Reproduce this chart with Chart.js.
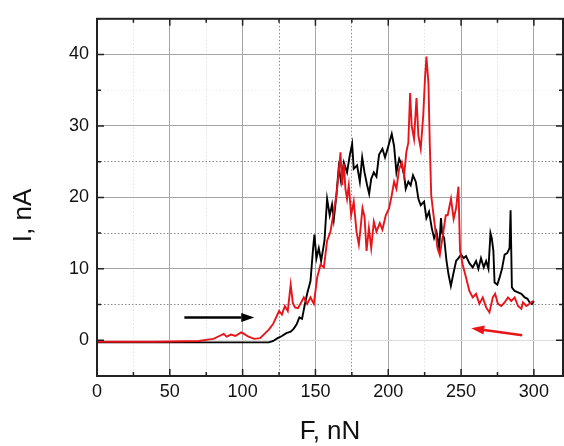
<!DOCTYPE html>
<html>
<head>
<meta charset="utf-8">
<script src="https://cdn.jsdelivr.net/npm/chart.js@4.4.0/dist/chart.umd.min.js"></script>
<style>
  html, body { margin: 0; padding: 0; background: #fff; }
</style>
</head>
<body>
<canvas id="chart" width="564" height="446"></canvas>
<script>
// loading run (black), F in nN / I in nA
const forceBlack = [
    0, 60, 118, 121, 124, 127, 130, 133, 135, 137,
    139, 140.8, 142.5, 144.3, 146.6, 148.4, 149.3, 150.7, 152.3, 153.9,
    156.2, 158, 159.8, 161.4, 162.6, 164.4, 166, 167.6, 169.5, 171.7,
    173.6, 175.2, 176.3, 178.6, 180.5, 182.1, 183.7, 185.5, 186.9, 188.3,
    190.1, 191.9, 193.7, 196, 197.8, 200.1, 202.4, 204, 205.6, 207.5,
    209.3, 210.9, 212, 213.8, 215.4, 217, 218.9, 220.7, 222.3, 224.6,
    226.2, 228, 229.9, 231.5, 233.1, 235, 236.2, 237, 238.4, 240,
    241.4, 243, 244.6, 246.6, 248.2, 250, 251.8, 253.4, 255.7, 258,
    260.3, 261.9, 263.7, 265.6, 267.2, 268.8, 270.2, 271.1, 272.2, 273,
    274.9, 276.5, 278.1, 279.9, 281.7, 283.3, 284, 284.9, 286.8, 289.1,
    291.4, 293.7, 295.6, 297.1, 298.7, 300
];
const currentBlack = [
    -0.3, -0.3, -0.3, -0.1, 0.3, 0.6, 1.0, 1.2, 1.6, 2.2,
    3.2, 3.0, 4.8, 6.5, 8.3, 12.9, 14.8, 11.5, 12.9, 11.1,
    13.9, 19.8, 17.5, 19.0, 16.9, 20.3, 24.2, 22.2, 24.9, 23.5,
    25.9, 27.5, 24.0, 24.5, 22.2, 25.6, 23.5, 21.7, 20.5, 22.6,
    23.5, 22.9, 26.0, 26.8, 25.6, 27.2, 28.9, 27.2, 23.5, 25.4,
    24.5, 23.1, 21.2, 22.2, 21.7, 23.1, 22.2, 19.8, 18.9, 19.4,
    17.1, 18.0, 15.7, 14.3, 15.2, 12.9, 17.1, 15.0, 14.3, 11.1,
    9.2, 7.6, 9.2, 11.1, 11.5, 12.0, 11.5, 11.8, 10.8, 10.2,
    11.1, 10.0, 11.5, 10.2, 11.1, 10.0, 15.0, 14.3, 12.5, 8.1,
    7.8, 8.8, 10.0, 12.0, 12.2, 12.9, 18.2, 7.4, 6.9, 6.7,
    6.5, 6.0, 5.8, 5.3, 5.1, 5.5
];

// unloading run (red)
const forceRed = [
    0, 40, 70, 76, 80, 84, 87, 89, 92, 95,
    99, 101, 104, 108, 112, 115, 118, 121, 123, 125,
    127, 129, 131, 133, 134.5, 136, 138, 139.7, 142, 144.3,
    146.6, 148.9, 151.2, 153.5, 155.8, 158, 160.3, 162.6, 164.4, 166,
    167.2, 168.3, 169.5, 170.6, 171.7, 172.9, 174.5, 176.3, 178.2, 179.8,
    181, 182.3, 183.7, 185.1, 186.7, 188.3, 190.1, 191.9, 194.2, 196,
    198.3, 200.6, 202.4, 204, 205.6, 207.5, 209.3, 210.9, 212.4, 213.8,
    215, 216.1, 217.7, 219.4, 220.7, 222.3, 224, 225.3, 226.2, 227.6,
    228.5, 229.5, 230.8, 232.2, 233.8, 235.4, 237.2, 239.5, 240.8, 243.1,
    244.9, 246.6, 248.2, 249.3, 251.1, 253.4, 255.7, 258, 260.3, 262.6,
    264.9, 267.2, 269.5, 271.8, 273.4, 275.3, 277.6, 279.9, 282.2, 284.5,
    286.8, 289.1, 291.4, 292.5, 294.8, 297.1, 299.4
];
const currentRed = [
    -0.2, -0.2, -0.1, 0.1, 0.2, 0.6, 0.9, 0.5, 0.8, 0.6,
    1.1, 0.9, 0.5, 0.2, 0.3, 0.9, 1.5, 2.3, 3.2, 4.1,
    3.6, 4.8, 4.1, 7.8, 5.2, 4.6, 4.5, 5.1, 6.0, 5.1,
    6.0, 5.1, 8.8, 10.6, 10.2, 13.9, 15.2, 18.0, 20.3, 23.5,
    26.3, 21.7, 24.7, 21.2, 19.8, 21.7, 17.5, 19.4, 15.2, 13.4,
    15.7, 18.5, 17.3, 12.5, 15.7, 12.9, 16.6, 15.2, 16.4, 15.5,
    17.5, 18.5, 20.3, 22.2, 21.2, 24.0, 24.9, 23.1, 26.3, 27.7,
    34.6, 30.0, 28.2, 33.9, 28.6, 26.8, 31.4, 36.9, 39.7, 36.0,
    27.7, 20.3, 18.0, 15.7, 12.9, 11.9, 14.3, 17.5, 17.5, 19.8,
    17.0, 18.5, 21.5, 12.5, 10.6, 8.8, 6.9, 6.0, 6.5, 5.1,
    6.0, 4.6, 3.9, 6.0, 6.5, 5.1, 4.8, 5.3, 6.0, 5.5,
    6.0, 4.8, 4.4, 5.3, 4.8, 5.1, 5.5
];

// direction arrows: [x0, y0, x1, y1] in data units
const arrowForward = [60, 3.2, 108, 3.2];
const arrowBackward = [292, 0.7, 257, 1.7];

const xRange = [0, 320];
const yRange = [-5, 45];

const toPoints = (xs, ys) => xs.map((x, i) => ({ x: x, y: ys[i] }));

function xGridColor(ctx) {
    const v = ctx.tick.value;
    if (v % 50 === 0) return '#a6a6a6';
    if (v === 125 || v === 175) return '#8a8a8a';
    return '#e2e2e2';
}
function yGridColor(ctx) {
    const v = ctx.tick.value;
    if (v === 0) return '#dcdcdc';
    if (v % 10 === 0) return '#a6a6a6';
    if (v === 35) return '#eeeeee';
    return '#8a8a8a';
}
function minorDash(step) {
    return ctx => (ctx.tick && ctx.tick.value % step !== 0) ? [1.5, 2] : [];
}

// frame + inward ticks on all four sides
const framePlugin = {
    id: 'frame',
    afterDraw(chart) {
        const { ctx, chartArea: a, scales } = chart;
        ctx.save();
        ctx.strokeStyle = '#222';
        ctx.lineWidth = 1.5;
        ctx.beginPath();
        scales.x.ticks.forEach(t => {
            const px = scales.x.getPixelForValue(t.value);
            const len = t.value % 50 === 0 ? 7 : 4;
            ctx.moveTo(px, a.bottom); ctx.lineTo(px, a.bottom - len);
            ctx.moveTo(px, a.top); ctx.lineTo(px, a.top + len);
        });
        scales.y.ticks.forEach(t => {
            const py = scales.y.getPixelForValue(t.value);
            const len = t.value % 10 === 0 ? 7 : 4;
            ctx.moveTo(a.left, py); ctx.lineTo(a.left + len, py);
            ctx.moveTo(a.right, py); ctx.lineTo(a.right - len, py);
        });
        ctx.stroke();
        ctx.lineWidth = 2;
        ctx.strokeRect(a.left, a.top, a.right - a.left, a.bottom - a.top);

        // arrows
        const drawArrow = (arr, color) => {
            const x0 = scales.x.getPixelForValue(arr[0]);
            const y0 = scales.y.getPixelForValue(arr[1]);
            const x1 = scales.x.getPixelForValue(arr[2]);
            const y1 = scales.y.getPixelForValue(arr[3]);
            const ang = Math.atan2(y1 - y0, x1 - x0);
            const head = 13, half = 4.5;
            const bx = x1 - head * Math.cos(ang), by = y1 - head * Math.sin(ang);
            ctx.strokeStyle = color;
            ctx.fillStyle = color;
            ctx.lineWidth = 2.5;
            ctx.beginPath();
            ctx.moveTo(x0, y0);
            ctx.lineTo(bx, by);
            ctx.stroke();
            ctx.beginPath();
            ctx.moveTo(x1, y1);
            ctx.lineTo(bx + half * Math.sin(ang), by - half * Math.cos(ang));
            ctx.lineTo(bx - half * Math.sin(ang), by + half * Math.cos(ang));
            ctx.closePath();
            ctx.fill();
        };
        drawArrow(arrowForward, '#000');
        drawArrow(arrowBackward, '#e8141a');
        ctx.restore();
    }
};

const fontFamily = 'Arial, "Liberation Sans", sans-serif';

new Chart(document.getElementById('chart'), {
    type: 'line',
    data: {
        datasets: [
            {
                label: 'unloading',
                data: toPoints(forceRed, currentRed),
                borderColor: '#e8141a',
                borderWidth: 1.9,
                pointRadius: 0,
                tension: 0
            },
            {
                label: 'loading',
                data: toPoints(forceBlack, currentBlack),
                borderColor: '#000',
                borderWidth: 1.9,
                pointRadius: 0,
                tension: 0
            }
        ]
    },
    options: {
        responsive: false,
        animation: false,
        devicePixelRatio: 1,
        layout: { padding: { top: 14, right: 1, left: 0, bottom: 0 } },
        plugins: { legend: { display: false }, tooltip: { enabled: false } },
        scales: {
            x: {
                type: 'linear',
                min: xRange[0],
                max: xRange[1],
                afterFit(scale) { scale.height = 70; },
                ticks: {
                    stepSize: 25,
                    includeBounds: false,
                    autoSkip: false,
                    maxRotation: 0,
                    padding: 5,
                    color: '#111',
                    font: { family: fontFamily, size: 18 },
                    callback: v => (v % 50 === 0 ? String(v) : '')
                },
                grid: { drawTicks: false, color: xGridColor, lineWidth: 1 },
                border: { display: false, dash: minorDash(50) },
                title: {
                    display: true,
                    text: 'F, nN',
                    color: '#111',
                    font: { family: fontFamily, size: 26, lineHeight: 1 },
                    padding: { top: 0, bottom: 1 }
                }
            },
            y: {
                min: yRange[0],
                max: yRange[1],
                afterFit(scale) { scale.width = 97; },
                ticks: {
                    stepSize: 5,
                    autoSkip: false,
                    padding: 8,
                    color: '#111',
                    font: { family: fontFamily, size: 18 },
                    callback: v => (v % 10 === 0 ? String(v) : '')
                },
                grid: { drawTicks: false, color: yGridColor, lineWidth: 1 },
                border: { display: false, dash: minorDash(10) },
                title: {
                    display: true,
                    text: 'I, nA     ',
                    color: '#111',
                    font: { family: fontFamily, size: 26, lineHeight: 1 },
                    padding: { top: 11, bottom: 0 }
                }
            }
        }
    },
    plugins: [framePlugin]
});
</script>
</body>
</html>
